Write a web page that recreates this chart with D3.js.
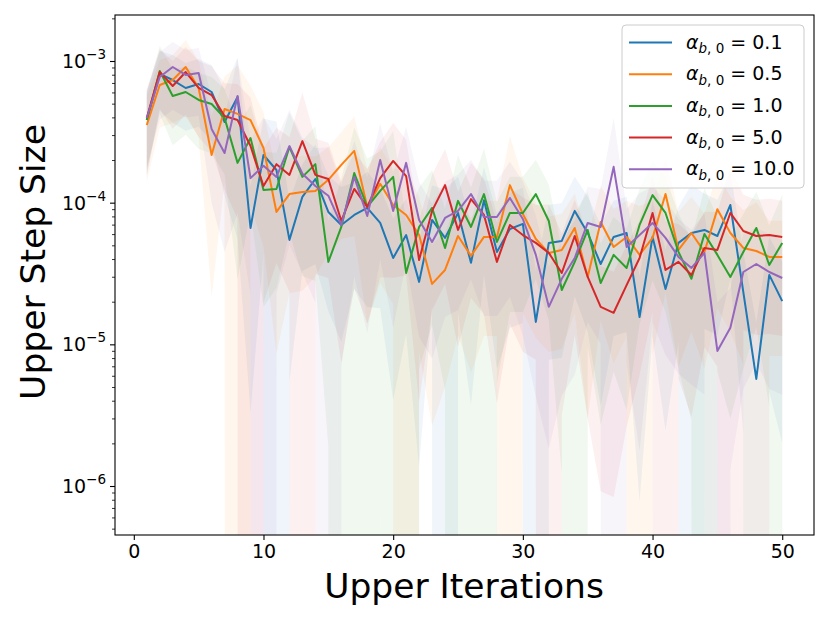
<!DOCTYPE html>
<html>
<head>
<meta charset="utf-8">
<script src="https://cdn.jsdelivr.net/npm/d3@7"></script>
<style>
  body { margin: 0; background: #fff; }
  svg { font-family: "DejaVu Sans", sans-serif; }
</style>
</head>
<body>
<div id="chart"></div>
<script>
// x positions (upper iterations)
const iterations = d3.range(1, 51);

const seriesLabels = ["0.1", "0.5", "1.0", "5.0", "10.0"];
const seriesColors = ["#1f77b4", "#ff7f0e", "#2ca02c", "#d62728", "#9467bd"];

// mean step size
const meanA01 = [3.83e-4, 8.10e-4, 7.34e-4, 6.45e-4, 6.88e-4, 6.04e-4, 3.71e-4, 5.57e-4, 6.63e-5, 2.17e-4,
  1.70e-4, 5.46e-5, 1.10e-4, 1.47e-4, 8.60e-5, 6.96e-5, 8.19e-5, 9.18e-5, 7.19e-5, 4.07e-5,
  5.91e-5, 2.76e-5, 7.55e-5, 5.64e-5, 8.46e-5, 3.76e-5, 1.04e-4, 4.49e-5, 6.52e-5, 7.08e-5,
  1.44e-5, 5.20e-5, 5.37e-5, 8.75e-5, 6.11e-5, 3.69e-5, 5.73e-5, 6.11e-5, 1.56e-5, 5.73e-5,
  2.46e-5, 5.20e-5, 6.11e-5, 6.42e-5, 5.82e-5, 9.63e-5, 2.34e-5, 5.70e-6, 3.09e-5, 2.02e-5];
const meanA05 = [3.53e-4, 6.77e-4, 7.34e-4, 9.07e-4, 6.45e-4, 2.17e-4, 4.58e-4, 4.23e-4, 3.83e-4, 2.43e-4,
  8.60e-5, 1.15e-4, 1.19e-4, 1.21e-4, 1.45e-4, 1.85e-4, 2.32e-4, 9.33e-5, 1.36e-4, 9.63e-5,
  8.19e-5, 5.91e-5, 2.67e-5, 3.35e-5, 5.82e-5, 4.21e-5, 5.73e-5, 5.73e-5, 1.33e-4, 8.32e-5,
  5.54e-5, 4.42e-5, 4.64e-5, 6.63e-5, 2.99e-5, 7.31e-5, 4.87e-5, 5.73e-5, 4.28e-5, 5.64e-5,
  1.15e-4, 4.64e-5, 6.11e-5, 4.49e-5, 9.00e-5, 6.11e-5, 4.79e-5, 4.56e-5, 4.14e-5, 4.14e-5];
const meanA10 = [3.83e-4, 8.50e-4, 5.66e-4, 6.04e-4, 5.31e-4, 4.97e-4, 3.96e-4, 1.91e-4, 2.86e-4, 1.23e-4,
  1.25e-4, 2.47e-4, 1.52e-4, 1.87e-4, 3.82e-5, 6.74e-5, 1.62e-4, 9.33e-5, 1.21e-4, 1.52e-4,
  3.19e-5, 6.74e-5, 9.18e-5, 4.79e-5, 1.03e-4, 6.74e-5, 1.15e-4, 5.28e-5, 8.46e-5, 8.46e-5,
  1.15e-4, 7.43e-5, 2.42e-5, 3.82e-5, 6.42e-5, 2.71e-5, 4.28e-5, 3.46e-5, 6.96e-5, 1.13e-4,
  8.46e-5, 4.49e-5, 2.90e-5, 6.01e-5, 4.28e-5, 2.99e-5, 4.49e-5, 6.63e-5, 3.63e-5, 5.20e-5];
const meanA50 = [3.96e-4, 8.36e-4, 6.66e-4, 8.36e-4, 6.45e-4, 5.75e-4, 4.09e-4, 3.83e-4, 2.51e-4, 1.31e-4,
  1.87e-4, 1.57e-4, 2.72e-4, 1.57e-4, 1.47e-4, 7.43e-5, 1.25e-4, 9.33e-5, 1.49e-4, 1.97e-4,
  1.54e-4, 3.94e-5, 8.75e-5, 1.33e-4, 6.42e-5, 1.06e-4, 8.19e-5, 3.82e-5, 6.96e-5, 5.91e-5,
  5.20e-5, 4.42e-5, 3.19e-5, 5.82e-5, 2.99e-5, 1.84e-5, 1.67e-5, 2.62e-5, 4.07e-5, 8.46e-5,
  3.35e-5, 3.82e-5, 3.09e-5, 4.79e-5, 4.64e-5, 8.46e-5, 6.31e-5, 5.82e-5, 5.91e-5, 5.73e-5];
const meanA100 = [3.96e-4, 7.71e-4, 9.07e-4, 7.97e-4, 8.23e-4, 3.31e-4, 2.24e-4, 5.66e-4, 1.49e-4, 1.82e-4,
  1.52e-4, 2.51e-4, 1.60e-4, 1.31e-4, 1.12e-4, 6.96e-5, 1.52e-4, 8.06e-5, 2.00e-4, 8.75e-5,
  1.91e-4, 7.55e-5, 5.28e-5, 7.80e-5, 8.75e-5, 1.15e-4, 7.93e-5, 7.93e-5, 1.08e-4, 7.67e-5,
  4.28e-5, 1.84e-5, 2.90e-5, 4.07e-5, 7.19e-5, 6.74e-5, 1.79e-4, 4.87e-5, 5.91e-5, 7.19e-5,
  5.64e-5, 4.14e-5, 3.46e-5, 4.42e-5, 8.98e-6, 1.31e-5, 3.24e-5, 3.69e-5, 3.24e-5, 2.94e-5];

// spread of the shaded band, relative to the mean (std / mean); >1 means the band reaches zero
const spreadA01 = [0.6, 0.45, 0.5, 0.5, 0.5, 0.55, 0.7, 0.9, 0.95, 0.8, 1.2, 0.9, 0.7, 0.75, 0.8, 0.85, 0.7, 0.8, 0.75, 0.9,
  0.8, 0.95, 0.75, 1.2, 0.8, 0.9, 0.7, 0.85, 0.8, 0.8, 1.3, 0.85, 0.85, 0.75, 0.8, 0.9, 0.8, 0.8, 0.95, 0.8,
  0.9, 0.8, 1.2, 0.8, 0.8, 0.7, 0.9, 1.5, 0.85, 0.9];
const spreadA05 = [0.6, 0.5, 0.5, 0.55, 0.55, 0.9, 0.7, 1.2, 0.75, 0.8, 0.9, 0.8, 0.8, 0.75, 0.7, 0.7, 0.75, 0.85, 0.8, 0.8,
  1.1, 0.85, 0.9, 0.85, 0.8, 0.85, 0.8, 0.8, 1.2, 0.8, 0.8, 0.8, 0.8, 0.75, 0.9, 0.8, 0.85, 0.8, 1.2, 0.85,
  0.8, 0.85, 0.8, 0.85, 0.8, 0.8, 0.85, 1.2, 0.8, 0.8];
const spreadA10 = [0.55, 0.5, 0.55, 0.5, 0.55, 0.55, 0.6, 0.85, 0.7, 0.85, 0.8, 0.75, 0.8, 0.85, 0.95, 1.2, 1.1, 1.2, 0.9, 1.1,
  1.3, 0.9, 0.85, 0.9, 1.1, 0.9, 1.1, 0.9, 0.8, 0.8, 0.75, 0.8, 0.95, 1.2, 0.85, 0.9, 0.85, 0.9, 0.8, 0.75,
  0.8, 0.85, 0.9, 1.1, 0.85, 0.9, 0.85, 0.8, 0.9, 1.2];
const spreadA50 = [0.6, 0.45, 0.5, 0.5, 0.55, 0.6, 0.7, 0.8, 1.2, 0.85, 0.8, 0.85, 1.2, 0.8, 0.8, 0.9, 0.8, 0.85, 0.8, 0.85,
  0.8, 0.9, 0.8, 0.8, 0.85, 0.8, 0.8, 0.9, 0.8, 0.85, 0.85, 1.2, 0.9, 0.8, 0.9, 0.95, 0.95, 0.9, 0.85, 0.8,
  1.2, 0.85, 0.9, 0.8, 0.85, 1.1, 0.8, 0.8, 0.8, 0.8];
const spreadA100 = [0.55, 0.5, 0.5, 0.5, 0.5, 0.7, 0.8, 0.85, 0.85, 1.2, 0.85, 0.8, 0.8, 0.85, 1.2, 0.9, 0.8, 0.85, 0.8, 0.85,
  0.8, 0.85, 0.85, 0.8, 0.8, 0.75, 0.8, 0.8, 0.8, 0.85, 0.9, 0.9, 0.85, 0.85, 0.8, 0.85, 1.2, 0.85, 0.97, 0.8,
  0.85, 0.85, 0.85, 0.9, 1.2, 0.9, 0.85, 0.8, 0.85, 0.85];

const xTicks = [0, 10, 20, 30, 40, 50];
const yTickExponents = [-6, -5, -4, -3];

const meanSeries = [meanA01, meanA05, meanA10, meanA50, meanA100];
const spreadSeries = [spreadA01, spreadA05, spreadA10, spreadA50, spreadA100];

const width = 830, height = 623;
const margin = { top: 15, right: 16, bottom: 88, left: 115 };
const innerW = width - margin.left - margin.right;
const innerH = height - margin.top - margin.bottom;

const svg = d3.select("#chart").append("svg")
  .attr("width", width)
  .attr("height", height);

const bounds = svg.append("g")
  .attr("transform", `translate(${margin.left},${margin.top})`);

const xScale = d3.scaleLinear()
  .domain([-1.45, 52.45])
  .range([0, innerW]);

const yScale = d3.scaleLog()
  .domain([4.51e-7, 2.112e-3])
  .range([innerH, 0]);

bounds.append("clipPath")
  .attr("id", "plot-clip")
  .append("rect")
  .attr("width", innerW)
  .attr("height", innerH);

const plotArea = bounds.append("g").attr("clip-path", "url(#plot-clip)");

const line = d3.line()
  .x(d => xScale(d.x))
  .y(d => yScale(d.mean));

// lower edge goes to zero on a log axis -> far below the frame (matplotlib clips it)
const band = d3.area()
  .x(d => xScale(d.x))
  .y0(d => d.lo > 0 ? yScale(d.lo) : 1e5)
  .y1(d => yScale(d.hi));

const seriesPoints = meanSeries.map((means, s) => iterations.map((x, i) => {
  const std = means[i] * spreadSeries[s][i];
  return { x, mean: means[i], lo: means[i] - std, hi: means[i] + std };
}));

const bandLayer = plotArea.append("g");
const lineLayer = plotArea.append("g");

seriesPoints.forEach((pts, s) => {
  bandLayer.append("path")
    .datum(pts)
    .attr("fill", seriesColors[s])
    .attr("fill-opacity", 0.07)
    .attr("stroke", "none")
    .attr("d", band);
  lineLayer.append("path")
    .datum(pts)
    .attr("fill", "none")
    .attr("stroke", seriesColors[s])
    .attr("stroke-width", 2)
    .attr("stroke-linejoin", "round")
    .attr("d", line);
});

// x axis
bounds.append("g")
  .attr("transform", `translate(0,${innerH})`)
  .call(d3.axisBottom(xScale).tickValues(xTicks).tickSize(5).tickPadding(5))
  .call(g => g.select(".domain").remove())
  .call(g => g.selectAll(".tick line").attr("stroke", "#000").attr("stroke-width", 1.1))
  .call(g => g.selectAll(".tick text")
    .attr("fill", "#000")
    .attr("font-size", 19)
    .attr("font-family", "DejaVu Sans"));

// y axis, major + minor ticks
const minorTicks = [];
for (let e = -7; e <= -3; e++) {
  for (let k = 2; k <= 9; k++) {
    const v = k * Math.pow(10, e);
    if (v > yScale.domain()[0] && v < yScale.domain()[1]) minorTicks.push(v);
  }
}

bounds.append("g")
  .call(d3.axisLeft(yScale).tickValues(minorTicks).tickSize(3).tickFormat(""))
  .call(g => g.select(".domain").remove())
  .call(g => g.selectAll(".tick line").attr("stroke", "#000").attr("stroke-width", 0.8));

const majorTicks = yTickExponents.map(e => Math.pow(10, e));
bounds.append("g")
  .call(d3.axisLeft(yScale).tickValues(majorTicks).tickSize(5).tickFormat(""))
  .call(g => g.select(".domain").remove())
  .call(g => g.selectAll(".tick line").attr("stroke", "#000").attr("stroke-width", 1.1));

const yLabels = bounds.append("g");
yTickExponents.forEach(e => {
  const t = yLabels.append("text")
    .attr("x", -9)
    .attr("y", yScale(Math.pow(10, e)) + 7)
    .attr("text-anchor", "end")
    .attr("font-size", 19);
  t.append("tspan").text("10");
  t.append("tspan")
    .attr("dy", -9)
    .attr("font-size", 13.5)
    .text("\u2212" + Math.abs(e));
});

// frame
bounds.append("rect")
  .attr("width", innerW)
  .attr("height", innerH)
  .attr("fill", "none")
  .attr("stroke", "#000")
  .attr("stroke-width", 1.1);

// axis titles
svg.append("text")
  .attr("x", margin.left + innerW / 2 - 0.5)
  .attr("y", 598)
  .attr("text-anchor", "middle")
  .attr("font-size", 34.5)
  .text("Upper Iterations");

svg.append("text")
  .attr("transform", "translate(45,262) rotate(-90)")
  .attr("text-anchor", "middle")
  .attr("font-size", 34.5)
  .text("Upper Step Size");

// legend
const legend = svg.append("g").attr("transform", "translate(622,25)");
legend.append("rect")
  .attr("width", 182)
  .attr("height", 163)
  .attr("rx", 4)
  .attr("fill", "#fff")
  .attr("fill-opacity", 0.8)
  .attr("stroke", "#cccccc")
  .attr("stroke-width", 1);

seriesLabels.forEach((lab, i) => {
  const row = legend.append("g").attr("transform", `translate(0,${17.5 + i * 31.7})`);
  row.append("line")
    .attr("x1", 7).attr("x2", 50)
    .attr("stroke", seriesColors[i])
    .attr("stroke-width", 2);
  const t = row.append("text")
    .attr("x", 64)
    .attr("y", 6)
    .attr("font-size", 19);
  t.append("tspan").attr("font-style", "italic").text("\u03b1");
  t.append("tspan").attr("font-size", 13.5).attr("dy", 4.5).attr("font-style", "italic").text("b");
  t.append("tspan").attr("font-size", 13.5).text(", 0");
  t.append("tspan").attr("dy", -4.5).text(" = " + lab);
});
</script>
</body>
</html>
